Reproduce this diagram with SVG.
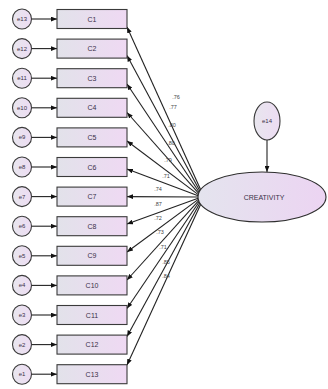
<svg xmlns="http://www.w3.org/2000/svg" width="328" height="389" viewBox="0 0 328 389">
  <style>
    .box { fill: url(#boxFill); stroke: #3a3a3a; stroke-width: 1.1; }
    .err { fill: url(#errFill); stroke: #3a3a3a; stroke-width: 1.1; }
    .lat { fill: url(#latFill); stroke: #2e2e2e; stroke-width: 1.1; }
    .lbl { font-family: "Liberation Sans", Arial, sans-serif; font-size: 7px; fill: #3a3048; text-anchor: middle; dominant-baseline: central; }
    .elbl { font-family: "Liberation Sans", Arial, sans-serif; font-size: 6px; fill: #3a3048; text-anchor: middle; dominant-baseline: central; }
    .wt { font-family: "Liberation Sans", Arial, sans-serif; font-size: 5.5px; fill: #444; text-anchor: middle; dominant-baseline: central; }
    .edge { stroke: #222; stroke-width: 1.1; fill: none; marker-end: url(#arrow); }
  </style>
  <defs>
    <linearGradient id="boxFill" x1="0" y1="0" x2="1" y2="0">
      <stop offset="0" stop-color="#e2e2ea"/>
      <stop offset="1" stop-color="#efd9f3"/>
    </linearGradient>
    <linearGradient id="latFill" x1="0" y1="0" x2="1" y2="0">
      <stop offset="0" stop-color="#e4e4ee"/>
      <stop offset="1" stop-color="#ecd4f2"/>
    </linearGradient>
    <linearGradient id="errFill" x1="0" y1="0" x2="1" y2="0">
      <stop offset="0" stop-color="#e8e6ee"/>
      <stop offset="1" stop-color="#eddcf3"/>
    </linearGradient>
    <marker id="arrow" viewBox="0 0 10 8" refX="10" refY="4" markerWidth="6" markerHeight="5" markerUnits="userSpaceOnUse" orient="auto">
      <path d="M0,0 L10,4 L0,8 Z" fill="#111"/>
    </marker>
  </defs>

  <rect width="328" height="389" fill="#ffffff"/>

  <!-- connectors: error terms to indicators, latent to indicators, e14 to latent -->
  <g id="connectors">
    <line class="edge" x1="31.5" y1="19" x2="57" y2="19"/>
    <line class="edge" x1="31.5" y1="48.6" x2="57" y2="48.6"/>
    <line class="edge" x1="31.5" y1="78.2" x2="57" y2="78.2"/>
    <line class="edge" x1="31.5" y1="107.8" x2="57" y2="107.8"/>
    <line class="edge" x1="31.5" y1="137.4" x2="57" y2="137.4"/>
    <line class="edge" x1="31.5" y1="167" x2="57" y2="167"/>
    <line class="edge" x1="31.5" y1="196.6" x2="57" y2="196.6"/>
    <line class="edge" x1="31.5" y1="226.2" x2="57" y2="226.2"/>
    <line class="edge" x1="31.5" y1="255.8" x2="57" y2="255.8"/>
    <line class="edge" x1="31.5" y1="285.4" x2="57" y2="285.4"/>
    <line class="edge" x1="31.5" y1="315" x2="57" y2="315"/>
    <line class="edge" x1="31.5" y1="344.6" x2="57" y2="344.6"/>
    <line class="edge" x1="31.5" y1="374.2" x2="57" y2="374.2"/>

    <line class="edge" x1="200.7" y1="189.8" x2="127" y2="27"/>
    <line class="edge" x1="199.9" y1="191" x2="127" y2="55.6"/>
    <line class="edge" x1="199.2" y1="192.2" x2="127" y2="84"/>
    <line class="edge" x1="198.7" y1="193.4" x2="127" y2="112.5"/>
    <line class="edge" x1="198.3" y1="194.6" x2="127" y2="141"/>
    <line class="edge" x1="198.1" y1="195.8" x2="127" y2="169"/>
    <line class="edge" x1="198" y1="197" x2="127" y2="196.6"/>
    <line class="edge" x1="198.1" y1="198.2" x2="127" y2="224"/>
    <line class="edge" x1="198.3" y1="199.4" x2="127" y2="252"/>
    <line class="edge" x1="198.7" y1="200.6" x2="127" y2="280"/>
    <line class="edge" x1="199.2" y1="201.8" x2="127" y2="308.5"/>
    <line class="edge" x1="199.9" y1="203" x2="127" y2="336.5"/>
    <line class="edge" x1="200.7" y1="204.2" x2="127" y2="365"/>

    <line class="edge" x1="267" y1="140" x2="267" y2="172"/>
  </g>

  <!-- standardized loadings -->
  <g id="loadings">
    <text class="wt" x="176" y="97">.76</text>
    <text class="wt" x="173" y="107">.77</text>
    <text class="wt" x="172" y="125">.80</text>
    <text class="wt" x="171" y="143">.80</text>
    <text class="wt" x="168" y="160">.79</text>
    <text class="wt" x="166" y="176">.71</text>
    <text class="wt" x="158" y="189">.74</text>
    <text class="wt" x="158" y="204">.87</text>
    <text class="wt" x="158" y="218">.72</text>
    <text class="wt" x="160" y="232">.73</text>
    <text class="wt" x="163" y="247">.71</text>
    <text class="wt" x="166" y="262">.85</text>
    <text class="wt" x="166" y="276">.84</text>
  </g>

  <!-- observed indicators C1..C13 -->
  <g id="C1"><rect class="box" x="57" y="9.5" width="70" height="19"/><text class="lbl" x="92" y="19">C1</text></g>
  <g id="C2"><rect class="box" x="57" y="39.1" width="70" height="19"/><text class="lbl" x="92" y="48.6">C2</text></g>
  <g id="C3"><rect class="box" x="57" y="68.7" width="70" height="19"/><text class="lbl" x="92" y="78.2">C3</text></g>
  <g id="C4"><rect class="box" x="57" y="98.3" width="70" height="19"/><text class="lbl" x="92" y="107.8">C4</text></g>
  <g id="C5"><rect class="box" x="57" y="127.9" width="70" height="19"/><text class="lbl" x="92" y="137.4">C5</text></g>
  <g id="C6"><rect class="box" x="57" y="157.5" width="70" height="19"/><text class="lbl" x="92" y="167">C6</text></g>
  <g id="C7"><rect class="box" x="57" y="187.1" width="70" height="19"/><text class="lbl" x="92" y="196.6">C7</text></g>
  <g id="C8"><rect class="box" x="57" y="216.7" width="70" height="19"/><text class="lbl" x="92" y="226.2">C8</text></g>
  <g id="C9"><rect class="box" x="57" y="246.3" width="70" height="19"/><text class="lbl" x="92" y="255.8">C9</text></g>
  <g id="C10"><rect class="box" x="57" y="275.9" width="70" height="19"/><text class="lbl" x="92" y="285.4">C10</text></g>
  <g id="C11"><rect class="box" x="57" y="305.5" width="70" height="19"/><text class="lbl" x="92" y="315">C11</text></g>
  <g id="C12"><rect class="box" x="57" y="335.1" width="70" height="19"/><text class="lbl" x="92" y="344.6">C12</text></g>
  <g id="C13"><rect class="box" x="57" y="364.7" width="70" height="19"/><text class="lbl" x="92" y="374.2">C13</text></g>

  <!-- error terms -->
  <g id="e13"><ellipse class="err" cx="22" cy="19" rx="9.5" ry="10"/><text class="elbl" x="22" y="19">e13</text></g>
  <g id="e12"><ellipse class="err" cx="22" cy="48.6" rx="9.5" ry="10"/><text class="elbl" x="22" y="48.6">e12</text></g>
  <g id="e11"><ellipse class="err" cx="22" cy="78.2" rx="9.5" ry="10"/><text class="elbl" x="22" y="78.2">e11</text></g>
  <g id="e10"><ellipse class="err" cx="22" cy="107.8" rx="9.5" ry="10"/><text class="elbl" x="22" y="107.8">e10</text></g>
  <g id="e9"><ellipse class="err" cx="22" cy="137.4" rx="9.5" ry="10"/><text class="elbl" x="22" y="137.4">e9</text></g>
  <g id="e8"><ellipse class="err" cx="22" cy="167" rx="9.5" ry="10"/><text class="elbl" x="22" y="167">e8</text></g>
  <g id="e7"><ellipse class="err" cx="22" cy="196.6" rx="9.5" ry="10"/><text class="elbl" x="22" y="196.6">e7</text></g>
  <g id="e6"><ellipse class="err" cx="22" cy="226.2" rx="9.5" ry="10"/><text class="elbl" x="22" y="226.2">e6</text></g>
  <g id="e5"><ellipse class="err" cx="22" cy="255.8" rx="9.5" ry="10"/><text class="elbl" x="22" y="255.8">e5</text></g>
  <g id="e4"><ellipse class="err" cx="22" cy="285.4" rx="9.5" ry="10"/><text class="elbl" x="22" y="285.4">e4</text></g>
  <g id="e3"><ellipse class="err" cx="22" cy="315" rx="9.5" ry="10"/><text class="elbl" x="22" y="315">e3</text></g>
  <g id="e2"><ellipse class="err" cx="22" cy="344.6" rx="9.5" ry="10"/><text class="elbl" x="22" y="344.6">e2</text></g>
  <g id="e1"><ellipse class="err" cx="22" cy="374.2" rx="9.5" ry="10"/><text class="elbl" x="22" y="374.2">e1</text></g>

  <!-- latent factor and its disturbance -->
  <g id="e14"><ellipse class="err" cx="267" cy="121" rx="13" ry="19"/><text class="elbl" x="267" y="121">e14</text></g>
  <g id="CREATIVITY"><ellipse class="lat" cx="262" cy="197" rx="64" ry="25"/><text class="lbl" x="264" y="197" font-size="6.5">CREATIVITY</text></g>
</svg>
